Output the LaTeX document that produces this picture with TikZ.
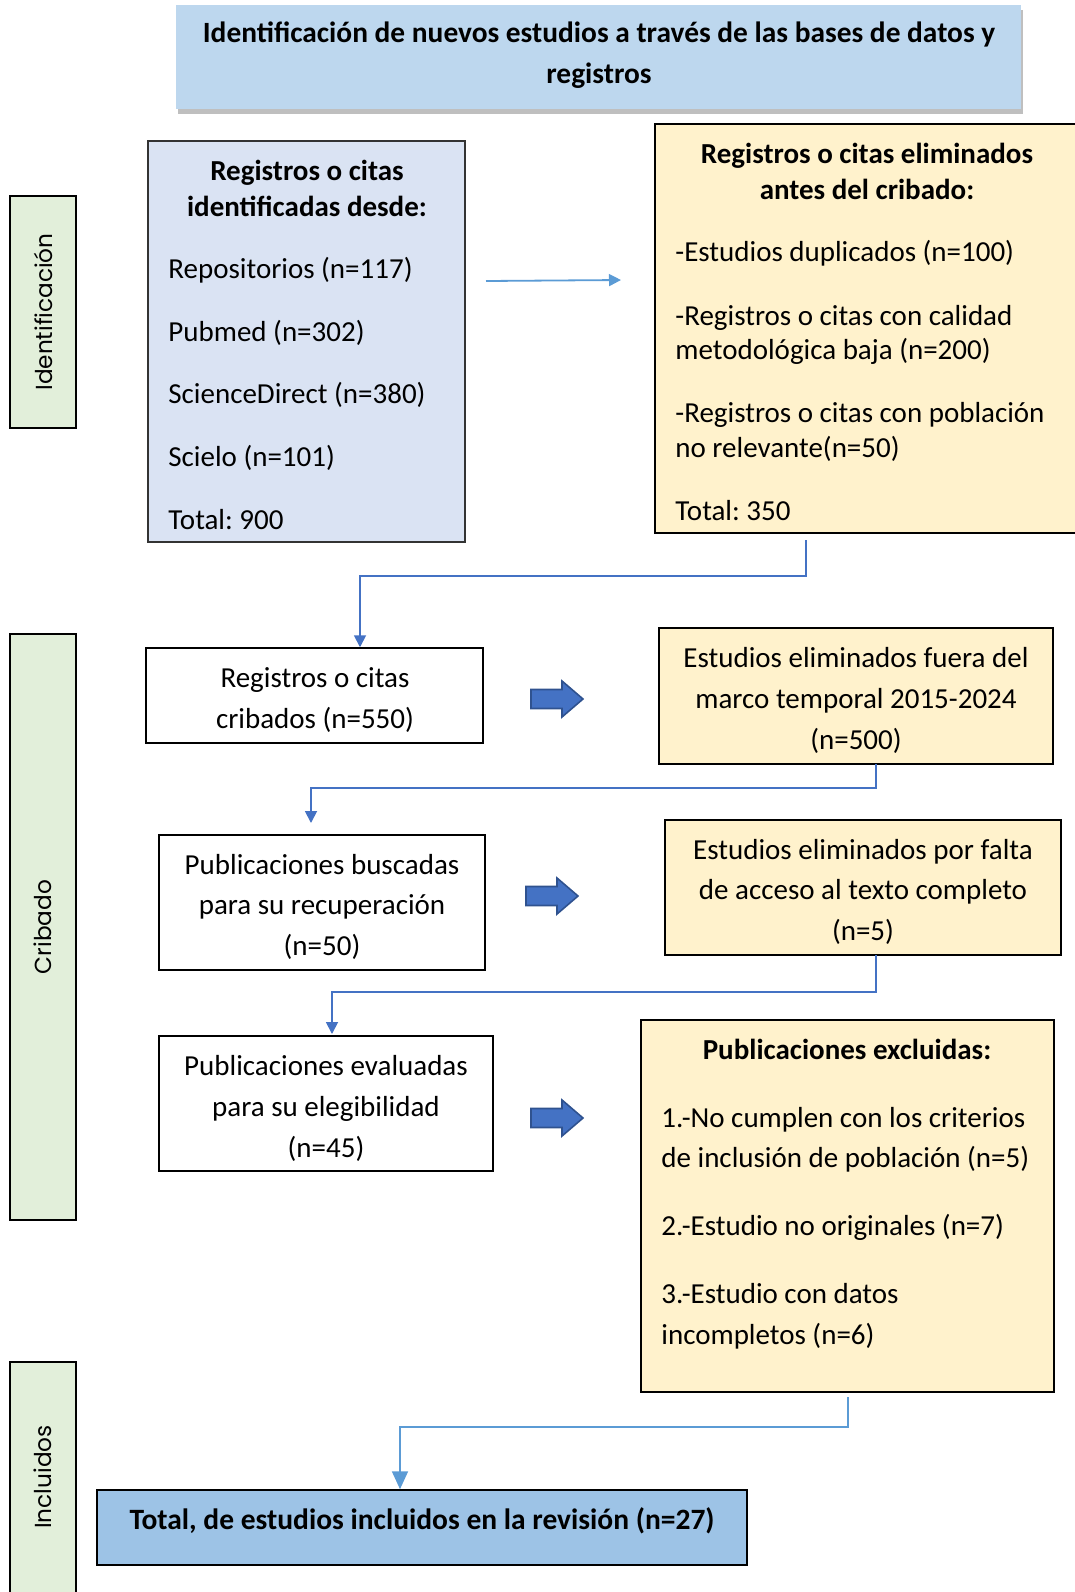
\documentclass[tikz,border=0pt]{standalone}
\usepackage{fontspec}
\setmainfont{Carlito}
\newfontfamily\sidefont{Poppins}
\usetikzlibrary{shadows,arrows.meta,fit}
\frenchspacing

\definecolor{titlefill}{HTML}{BDD7EE}
\definecolor{idfill}{HTML}{DAE3F3}
\definecolor{exfill}{HTML}{FFF2CC}
\definecolor{endfill}{HTML}{9DC3E6}
\definecolor{phasefill}{HTML}{E2EFDA}
\definecolor{linkblue}{HTML}{5B9BD5}
\definecolor{linkdark}{HTML}{4472C4}
\definecolor{arrowfill}{HTML}{4472C4}
\definecolor{arrowedge}{HTML}{2F528F}

\newcommand\bodyfont{\fontsize{14.5}{17}\selectfont}
\newcommand\titlefont{\fontsize{14.7}{17}\selectfont\bfseries}
\newcommand\totalfont{\fontsize{14.75}{17}\selectfont\bfseries}

\begin{document}
\begin{tikzpicture}[x=0.5pt,y=-0.5pt,
  frame/.style={draw=black, line width=0.75pt, inner sep=0pt},
  phase/.style={draw=black, line width=1.3pt, fill=phasefill, inner sep=0pt},
  phasetxt/.style={font=\sidefont\fontsize{11.6}{13}\selectfont, rotate=90, inner sep=0pt},
  txt/.style={font=\bodyfont, inner sep=0pt, anchor=base},
  txtL/.style={txt, anchor=base west},
  conn/.style={line width=0.9pt},
  tipS/.style={-{Triangle[width=6pt,length=6pt]}},
  tipL/.style={-{Triangle[width=8pt,length=9pt]}},
  blockarrow/.pic={
    \draw[fill=arrowfill, draw=arrowedge, line width=0.8pt]
      (-26,-9.5) -- (5,-9.5) -- (5,-18) -- (26,0) -- (5,18) -- (5,9.5) -- (-26,9.5) -- cycle;}
]
\useasboundingbox (0,0) rectangle (1075,1592);

% ---- header ----
\node[fill=titlefill, inner sep=0pt, fit={(176,5) (1021,109)},
      drop shadow={shadow xshift=1pt, shadow yshift=-2.5pt, fill=black, opacity=0.25}] (head) {};
\node[txt, font=\titlefont] (head1) at (599,42) {Identificación de nuevos estudios a través de las bases de datos y};
\node[txt, font=\titlefont] (head2) at (599,83) {registros};

% ---- phase labels ----
\node[phase, fit={(10,196) (76,428)}] (ph1) {};
\node[phasetxt] (ph1t) at (ph1.center) {Identificación};
\node[phase, fit={(10,634) (76,1220)}] (ph2) {};
\node[phasetxt] (ph2t) at (ph2.center) {Cribado};
\node[phase, fit={(10,1362) (76,1620)}] (ph3) {};
\node[phasetxt] (ph3t) at (43,1477) {Incluidos};

% ---- identification ----
\node[frame, draw=black!80, fill=idfill, fit={(148,141) (465,542)}] (b1) {};
\node[txt, font=\bodyfont\bfseries] (b1h1) at (307,180) {Registros o citas};
\node[txt, font=\bodyfont\bfseries] (b1h2) at (307,216) {identificadas desde:};
\node[txtL] (b1l1) at (168,278) {Repositorios (n=117)};
\node[txtL] (b1l2) at (168,341) {Pubmed (n=302)};
\node[txtL] (b1l3) at (168,403) {ScienceDirect (n=380)};
\node[txtL] (b1l4) at (168,466) {Scielo (n=101)};
\node[txtL] (b1l5) at (168,529) {Total: 900};

\node[frame, fill=exfill, fit={(655,124) (1090,533)}] (b2) {};
\node[txt, font=\bodyfont\bfseries] (b2h1) at (867,163) {Registros o citas eliminados};
\node[txt, font=\bodyfont\bfseries] (b2h2) at (867,199) {antes del cribado:};
\node[txtL] (b2l1) at (675,261) {-Estudios duplicados (n=100)};
\node[txtL] (b2l2) at (675,325) {-Registros o citas con calidad};
\node[txtL] (b2l3) at (675,359) {metodológica baja (n=200)};
\node[txtL] (b2l4) at (675,422) {-Registros o citas con población};
\node[txtL] (b2l5) at (675,457) {no relevante(n=50)};
\node[txtL] (b2l6) at (675,520) {Total: 350};

\coordinate (a1s) at (486,281);
\coordinate (a1e) at (621,280);
\draw[conn, draw=linkblue, tipS] (a1s) -- (a1e);

% ---- screening ----
\node[frame, fit={(146,648) (483,743)}] (b3) {};
\node[txt] (b3l1) at (315,687) {Registros o citas};
\node[txt] (b3l2) at (315,728) {cribados (n=550)};

\node[frame, fill=exfill, fit={(659,628) (1053,764)}] (b4) {};
\node[txt] (b4l1) at (856,667) {Estudios eliminados fuera del};
\node[txt] (b4l2) at (856,708) {marco temporal 2015-2024};
\node[txt] (b4l3) at (856,749) {(n=500)};

\node[frame, fit={(159,835) (485,970)}] (b5) {};
\node[txt] (b5l1) at (322,874) {Publicaciones buscadas};
\node[txt] (b5l2) at (322,914) {para su recuperación};
\node[txt] (b5l3) at (322,955) {(n=50)};

\node[frame, fill=exfill, fit={(665,820) (1061,955)}] (b6) {};
\node[txt] (b6l1) at (863,859) {Estudios eliminados por falta};
\node[txt] (b6l2) at (863,899) {de acceso al texto completo};
\node[txt] (b6l3) at (863,940) {(n=5)};

\node[frame, fit={(159,1036) (493,1171)}] (b7) {};
\node[txt] (b7l1) at (326,1075) {Publicaciones evaluadas};
\node[txt] (b7l2) at (326,1116) {para su elegibilidad};
\node[txt] (b7l3) at (326,1157) {(n=45)};

\node[frame, fill=exfill, fit={(641,1020) (1054,1392)}] (b8) {};
\node[txt, font=\bodyfont\bfseries] (b8h) at (847,1059) {Publicaciones excluidas:};
\node[txtL] (b8l1) at (661,1127) {1.-No cumplen con los criterios};
\node[txtL] (b8l2) at (661,1167) {de inclusión de población (n=5)};
\node[txtL] (b8l3) at (661,1235) {2.-Estudio no originales (n=7)};
\node[txtL] (b8l4) at (661,1303) {3.-Estudio con datos};
\node[txtL] (b8l5) at (661,1344) {incompletos (n=6)};

% block arrows towards the exclusion boxes
\pic (ba1) at (557,699) {blockarrow};
\pic (ba2) at (552,896) {blockarrow};
\pic (ba3) at (557,1118) {blockarrow};

% ---- included ----
\node[frame, fill=endfill, fit={(97,1490) (747,1565)}] (b9) {};
\node[txt, font=\totalfont] (b9l1) at (422,1529) {Total, de estudios incluidos en la revisión (n=27)};

% ---- elbow connectors ----
\coordinate (k1) at (806,540);
\coordinate (k1m) at (360,576);
\draw[conn, draw=linkdark, tipS] (k1) |- (k1m) -- (k1m |- b3.north);

\coordinate (k2) at (876,764);
\coordinate (k2m) at (311,788);
\coordinate (k2e) at (311,823);
\draw[conn, draw=linkdark, tipS] (k2) |- (k2m) -- (k2e);

\coordinate (k3) at (876,955);
\coordinate (k3m) at (332,992);
\coordinate (k3e) at (332,1034);
\draw[conn, draw=linkdark, tipS] (k3) |- (k3m) -- (k3e);

\coordinate (k4) at (848,1397);
\coordinate (k4m) at (400,1427);
\draw[conn, draw=linkblue, tipL] (k4) |- (k4m) -- (k4m |- b9.north);
\end{tikzpicture}
\end{document}
